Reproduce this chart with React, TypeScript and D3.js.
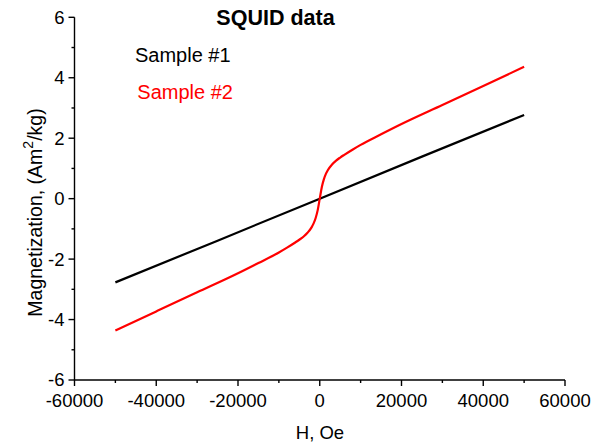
import React from "react";
import * as d3 from "d3";

const xTicks = [-60000, -40000, -20000, 0, 20000, 40000, 60000];
const yTicks = [-6, -4, -2, 0, 2, 4, 6];
const xMinor = [-50000, -30000, -10000, 10000, 30000, 50000];
const yMinor = [-5, -3, -1, 1, 3, 5];

const s1H = [-50000, -25000, 0, 25000, 50000];
const s1M = [-2.77, -1.39, 0, 1.39, 2.77];

const s2H = [0, 500, 1000, 1500, 2000, 3000, 4000, 5000, 6000, 8000, 10000, 15000, 20000, 30000, 40000, 50000];
const s2M = [0, 0.38, 0.64, 0.82, 0.95, 1.13, 1.26, 1.36, 1.45, 1.62, 1.78, 2.13, 2.47, 3.1, 3.73, 4.36];

const W = 596, H = 444;
const FONT = "'Liberation Sans', Arial, sans-serif";

export default function App() {
  const x = d3.scaleLinear().domain([-60000, 60000]).range([74.5, 565]);
  const y = d3.scaleLinear().domain([-6, 6]).range([380, 17.3]);

  const pts1: [number, number][] = s1H.map((h, i) => [h, s1M[i]]);
  const neg: [number, number][] = s2H.slice(1).map((h, i) => [-h, -s2M[i + 1]]).reverse();
  const pts2: [number, number][] = [...neg, ...s2H.map((h, i) => [h, s2M[i]] as [number, number])];

  const line = d3.line<[number, number]>().x(d => x(d[0])).y(d => y(d[1]));
  const curve = d3.line<[number, number]>().x(d => x(d[0])).y(d => y(d[1])).curve(d3.curveMonotoneX);

  const x0 = x(-60000), y0 = y(-6);

  return (
    <svg width={W} height={H} style={{ position: "absolute", left: 0, top: 0, background: "#fff" }} fontFamily={FONT}>
      <rect width={W} height={H} fill="#fff" />
      <path d={line(pts1) || ""} fill="none" stroke="#000" strokeWidth={2.2} />
      <path d={curve(pts2) || ""} fill="none" stroke="#ff0000" strokeWidth={2.2} />
      <line x1={x0} x2={x0} y1={y(6)} y2={y0} stroke="#000" strokeWidth={1.4} />
      <line x1={x0} x2={x(60000)} y1={y0} y2={y0} stroke="#000" strokeWidth={1.4} />
      {yTicks.map(t => (
        <g key={"y" + t}>
          <line x1={x0 - 6} x2={x0} y1={y(t)} y2={y(t)} stroke="#000" strokeWidth={1.4} />
          <text x={x0 - 10} y={y(t)} dy="0.35em" textAnchor="end" fontSize={18.5}>{t}</text>
        </g>
      ))}
      {yMinor.map(t => (
        <line key={"ym" + t} x1={x0 - 3} x2={x0} y1={y(t)} y2={y(t)} stroke="#000" strokeWidth={1.4} />
      ))}
      {xTicks.map(t => (
        <g key={"x" + t}>
          <line x1={x(t)} x2={x(t)} y1={y0} y2={y0 + 6} stroke="#000" strokeWidth={1.4} />
          <text x={x(t)} y={406.5} textAnchor="middle" fontSize={18.5}>{t}</text>
        </g>
      ))}
      {xMinor.map(t => (
        <line key={"xm" + t} x1={x(t)} x2={x(t)} y1={y0} y2={y0 + 3} stroke="#000" strokeWidth={1.4} />
      ))}
      <text x={320} y={439.3} textAnchor="middle" fontSize={18.5}>H, Oe</text>
      <text transform="translate(42,212.5) rotate(-90)" textAnchor="middle" fontSize={19.5}>
        Magnetization, (Am<tspan dy="-9" fontSize={14}>2</tspan><tspan dy="9">/kg)</tspan>
      </text>
      <text x={275.5} y={25} textAnchor="middle" fontSize={21.5} fontWeight="bold">SQUID data</text>
      <text x={135} y={61.7} fontSize={20} fill="#000">Sample #1</text>
      <text x={137.3} y={99} fontSize={20} fill="#ff0000">Sample #2</text>
    </svg>
  );
}
